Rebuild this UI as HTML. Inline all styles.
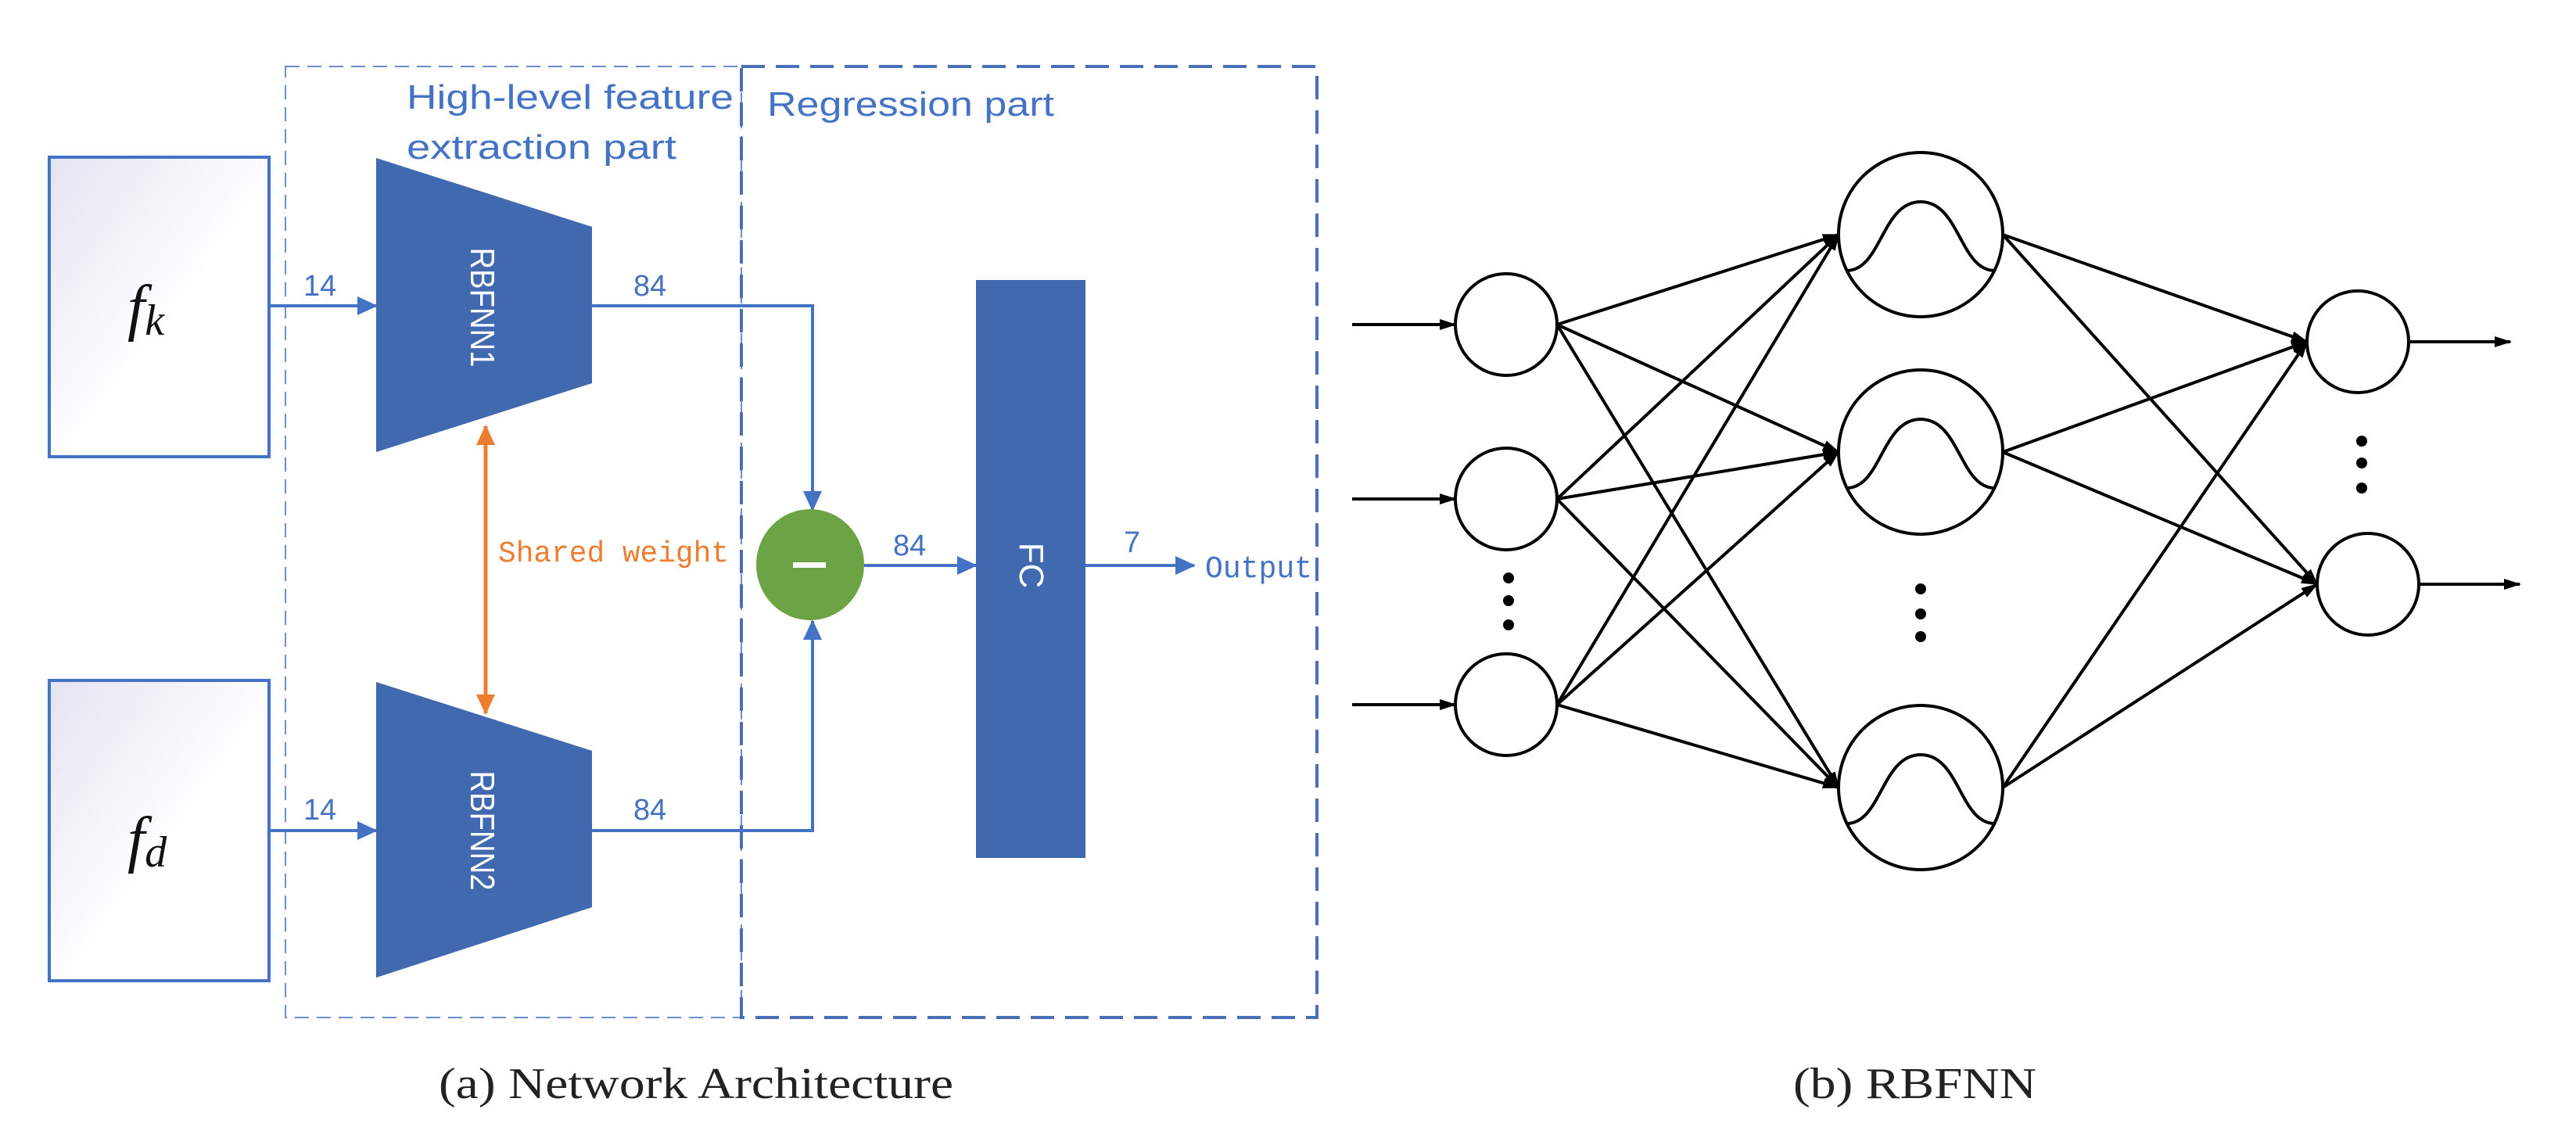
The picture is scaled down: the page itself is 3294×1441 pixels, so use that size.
<!DOCTYPE html>
<html><head><meta charset="utf-8"><style>html,body{margin:0;padding:0;background:#fff}svg{display:block}</style></head>
<body>
<svg width="3294" height="1441" viewBox="0 0 3294 1441" xmlns="http://www.w3.org/2000/svg">
<defs>
<linearGradient id="g" x1="0" y1="0" x2="1" y2="1">
<stop offset="0" stop-color="#e2e4f1"/><stop offset="0.55" stop-color="#ffffff"/></linearGradient>
<marker id="ab" markerUnits="userSpaceOnUse" markerWidth="26" markerHeight="24" refX="24" refY="12" orient="auto"><path d="M0,0 L26,12 L0,24 z" fill="#4472c4"/></marker>
<marker id="ao" markerUnits="userSpaceOnUse" markerWidth="26" markerHeight="24" refX="24" refY="12" orient="auto-start-reverse"><path d="M0,0 L26,12 L0,24 z" fill="#ed7d31"/></marker>
<marker id="ak" markerUnits="userSpaceOnUse" markerWidth="22" markerHeight="14" refX="20" refY="7" orient="auto"><path d="M0,0 L22,7 L0,14 z" fill="#000"/></marker>
</defs>

<rect x="365" y="85" width="583" height="1216" fill="none" stroke="#6d8fcf" stroke-width="2" stroke-dasharray="18,10"/>
<rect x="948" y="85" width="736" height="1216" fill="none" stroke="#4a6fb8" stroke-width="4" stroke-dasharray="30,14"/>
<text x="520" y="139" font-family="Liberation Sans, sans-serif" font-size="44" fill="#4472c4" textLength="418" lengthAdjust="spacingAndGlyphs">High-level feature</text>
<text x="520" y="203" font-family="Liberation Sans, sans-serif" font-size="44" fill="#4472c4" textLength="345" lengthAdjust="spacingAndGlyphs">extraction part</text>
<text x="981" y="148" font-family="Liberation Sans, sans-serif" font-size="44" fill="#4472c4" textLength="367" lengthAdjust="spacingAndGlyphs">Regression part</text>

<rect x="63" y="201" width="281" height="383" fill="url(#g)" stroke="#4472c4" stroke-width="4"/>
<rect x="63" y="870" width="281" height="384" fill="url(#g)" stroke="#4472c4" stroke-width="4"/>
<text x="163" y="420" font-family="Liberation Serif, serif" font-style="italic" font-size="80" fill="#111">f<tspan font-size="56" dy="8">k</tspan></text>
<text x="163" y="1100" font-family="Liberation Serif, serif" font-style="italic" font-size="80" fill="#111">f<tspan font-size="56" dy="8">d</tspan></text>

<polygon points="481,202 757,290 757,490 481,578" fill="#4169b0"/>
<polygon points="481,872 757,960 757,1160 481,1250" fill="#4169b0"/>
<text transform="translate(602,393) rotate(90)" text-anchor="middle" font-family="Liberation Sans, sans-serif" font-size="44" fill="#fff" textLength="153" lengthAdjust="spacingAndGlyphs">RBFNN1</text>
<text transform="translate(602,1062) rotate(90)" text-anchor="middle" font-family="Liberation Sans, sans-serif" font-size="44" fill="#fff" textLength="153" lengthAdjust="spacingAndGlyphs">RBFNN2</text>

<line x1="344" y1="391" x2="481" y2="391" stroke="#4472c4" stroke-width="4" marker-end="url(#ab)"/>
<line x1="344" y1="1062" x2="481" y2="1062" stroke="#4472c4" stroke-width="4" marker-end="url(#ab)"/>
<text x="388" y="378" font-family="Liberation Sans, sans-serif" font-size="38" fill="#4472c4">14</text>
<text x="388" y="1048" font-family="Liberation Sans, sans-serif" font-size="38" fill="#4472c4">14</text>

<polyline points="757,391 1039,391 1039,652" fill="none" stroke="#4472c4" stroke-width="4" marker-end="url(#ab)"/>
<polyline points="757,1062 1039,1062 1039,794" fill="none" stroke="#4472c4" stroke-width="4" marker-end="url(#ab)"/>
<text x="810" y="378" font-family="Liberation Sans, sans-serif" font-size="38" fill="#4472c4">84</text>
<text x="810" y="1048" font-family="Liberation Sans, sans-serif" font-size="38" fill="#4472c4">84</text>

<line x1="621" y1="545" x2="621" y2="912" stroke="#ed7d31" stroke-width="5" marker-start="url(#ao)" marker-end="url(#ao)"/>
<text x="637" y="718" font-family="Liberation Mono, monospace" font-size="38" fill="#ed7d31" textLength="295" lengthAdjust="spacingAndGlyphs">Shared weight</text>

<ellipse cx="1036" cy="722" rx="69" ry="71" fill="#6ca344"/>
<rect x="1014" y="719" width="42" height="7" fill="#fff"/>
<line x1="1105" y1="723" x2="1248" y2="723" stroke="#4472c4" stroke-width="4" marker-end="url(#ab)"/>
<text x="1142" y="710" font-family="Liberation Sans, sans-serif" font-size="38" fill="#4472c4">84</text>

<rect x="1248" y="358" width="140" height="739" fill="#4169b0"/>
<text transform="translate(1304,723) rotate(90)" text-anchor="middle" font-family="Liberation Sans, sans-serif" font-size="44" fill="#fff">FC</text>
<line x1="1388" y1="723" x2="1527" y2="723" stroke="#4472c4" stroke-width="4" marker-end="url(#ab)"/>
<text x="1437" y="706" font-family="Liberation Sans, sans-serif" font-size="38" fill="#4472c4">7</text>
<text x="1541" y="738" font-family="Liberation Mono, monospace" font-size="40" fill="#4472c4" textLength="137" lengthAdjust="spacingAndGlyphs">Output</text>

<text x="561" y="1404" font-family="Liberation Serif, serif" font-size="56" fill="#222" textLength="658" lengthAdjust="spacingAndGlyphs">(a)  Network Architecture</text>

<g stroke="#000" stroke-width="4" fill="none">
<line x1="1729" y1="415" x2="1861" y2="415" marker-end="url(#ak)"/>
<line x1="1729" y1="638" x2="1861" y2="638" marker-end="url(#ak)"/>
<line x1="1729" y1="901" x2="1861" y2="901" marker-end="url(#ak)"/>
<circle cx="1926" cy="415" r="65"/>
<circle cx="1926" cy="638" r="65"/>
<circle cx="1926" cy="901" r="65"/>
<circle cx="2456" cy="300" r="105"/>
<circle cx="2456" cy="578" r="105"/>
<circle cx="2456" cy="1007" r="105"/>
<path d="M2361,346 C2406,346 2406,258 2456,258 C2506,258 2506,346 2551,346"/>
<path d="M2361,624 C2406,624 2406,536 2456,536 C2506,536 2506,624 2551,624"/>
<path d="M2361,1053 C2406,1053 2406,965 2456,965 C2506,965 2506,1053 2551,1053"/>
<circle cx="3015" cy="437" r="65"/>
<circle cx="3028" cy="747" r="65"/>
<line x1="3080" y1="437" x2="3210" y2="437" marker-end="url(#ak)"/>
<line x1="3093" y1="747" x2="3222" y2="747" marker-end="url(#ak)"/>
<line x1="1991" y1="415" x2="2351" y2="300" marker-end="url(#ak)"/>
<line x1="1991" y1="415" x2="2351" y2="578" marker-end="url(#ak)"/>
<line x1="1991" y1="415" x2="2351" y2="1007" marker-end="url(#ak)"/>
<line x1="1991" y1="638" x2="2351" y2="300" marker-end="url(#ak)"/>
<line x1="1991" y1="638" x2="2351" y2="578" marker-end="url(#ak)"/>
<line x1="1991" y1="638" x2="2351" y2="1007" marker-end="url(#ak)"/>
<line x1="1991" y1="901" x2="2351" y2="300" marker-end="url(#ak)"/>
<line x1="1991" y1="901" x2="2351" y2="578" marker-end="url(#ak)"/>
<line x1="1991" y1="901" x2="2351" y2="1007" marker-end="url(#ak)"/>
<line x1="2561" y1="300" x2="2950" y2="437" marker-end="url(#ak)"/>
<line x1="2561" y1="300" x2="2963" y2="747" marker-end="url(#ak)"/>
<line x1="2561" y1="578" x2="2950" y2="437" marker-end="url(#ak)"/>
<line x1="2561" y1="578" x2="2963" y2="747" marker-end="url(#ak)"/>
<line x1="2561" y1="1007" x2="2950" y2="437" marker-end="url(#ak)"/>
<line x1="2561" y1="1007" x2="2963" y2="747" marker-end="url(#ak)"/>
</g>
<g fill="#000">
<circle cx="1929" cy="739" r="7"/><circle cx="1929" cy="768" r="7"/><circle cx="1929" cy="799" r="7"/>
<circle cx="2456" cy="753" r="7"/><circle cx="2456" cy="785" r="7"/><circle cx="2456" cy="814" r="7"/>
<circle cx="3020" cy="564" r="7"/><circle cx="3020" cy="592" r="7"/><circle cx="3020" cy="624" r="7"/>
</g>
<text x="2293" y="1404" font-family="Liberation Serif, serif" font-size="56" fill="#222" textLength="311" lengthAdjust="spacingAndGlyphs">(b)  RBFNN</text>
</svg>
</body></html>
